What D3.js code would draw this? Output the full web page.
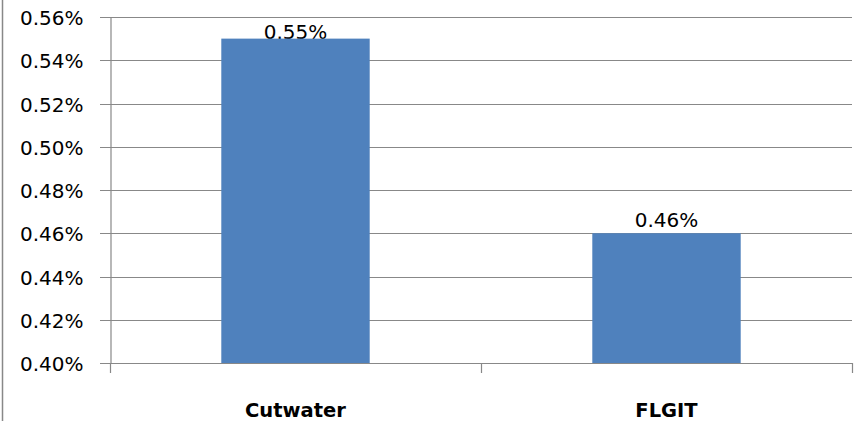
<!DOCTYPE html>
<html>
<head>
<meta charset="utf-8">
<script src="https://d3js.org/d3.v7.min.js"></script>
<style>
body{margin:0;background:#fff;}
svg{display:block;}
text{font-family:"DejaVu Sans",sans-serif;fill:#000;}
</style>
</head>
<body>
<svg width="860" height="421"></svg>
<script>
var categories=["Cutwater","FLGIT"];
var values=[0.55,0.46];
var yTicks=[0.40,0.42,0.44,0.46,0.48,0.50,0.52,0.54,0.56];

var svg=d3.select("svg");
var plotLeft=110, plotRight=852, plotTop=17, plotBottom=363;

// outer border (only left edge shows)
svg.append("line")
    .attr("x1",2.5).attr("x2",2.5).attr("y1",0).attr("y2",421)
    .attr("stroke","#888").attr("stroke-width",1.5);

var x=d3.scaleBand().domain(categories).range([plotLeft,plotRight]).paddingInner(0.6).paddingOuter(0.3);
var y=d3.scaleLinear().domain([0.40,0.56]).range([plotBottom,plotTop]);

// gridlines
svg.append("g").selectAll("line").data(yTicks).enter().append("line")
    .attr("x1",plotLeft-10).attr("x2",plotRight)
    .attr("y1",function(d){return Math.round(y(d))+0.5;})
    .attr("y2",function(d){return Math.round(y(d))+0.5;})
    .attr("stroke","#888").attr("stroke-width",1.2);

// y axis
var yAxis=svg.append("g").attr("transform","translate("+(plotLeft+0.5)+",0)")
    .call(d3.axisLeft(y).tickValues(yTicks).tickSize(0).tickPadding(27)
        .tickFormat(function(d){return d.toFixed(2)+"%";}));
yAxis.select(".domain").attr("stroke","#888").attr("stroke-width",1.2);
yAxis.selectAll("text").style("font-size","20px").attr("fill","#000").attr("dy","0.38em");

// x axis ticks (boundaries)
var xt=[plotLeft,plotLeft+x.step(),plotRight];
svg.append("g").selectAll("line").data(xt).enter().append("line")
    .attr("x1",function(d){return d+0.5;}).attr("x2",function(d){return d+0.5;})
    .attr("y1",plotBottom).attr("y2",plotBottom+10)
    .attr("stroke","#888").attr("stroke-width",1.2);

// value labels (drawn before bars; label clamped inside plot top)
svg.append("g").selectAll("text").data(values).enter().append("text")
    .attr("x",function(d,i){return x(categories[i])+x.bandwidth()/2;})
    .attr("y",function(d){return Math.max(y(d)-6,plotTop+22);})
    .attr("text-anchor","middle")
    .style("font-size","20px")
    .text(function(d){return d.toFixed(2)+"%";});

// bars
svg.append("g").selectAll("rect").data(values).enter().append("rect")
    .attr("x",function(d,i){return x(categories[i]);})
    .attr("width",x.bandwidth())
    .attr("y",function(d){return y(d);})
    .attr("height",function(d){return plotBottom-y(d);})
    .attr("fill","#4F81BD");

// category labels
svg.append("g").selectAll("text").data(categories).enter().append("text")
    .attr("x",function(d){return x(d)+x.bandwidth()/2;})
    .attr("y",417)
    .attr("text-anchor","middle")
    .style("font-size","19.5px").style("font-weight","bold")
    .text(function(d){return d;});
</script>
</body>
</html>
